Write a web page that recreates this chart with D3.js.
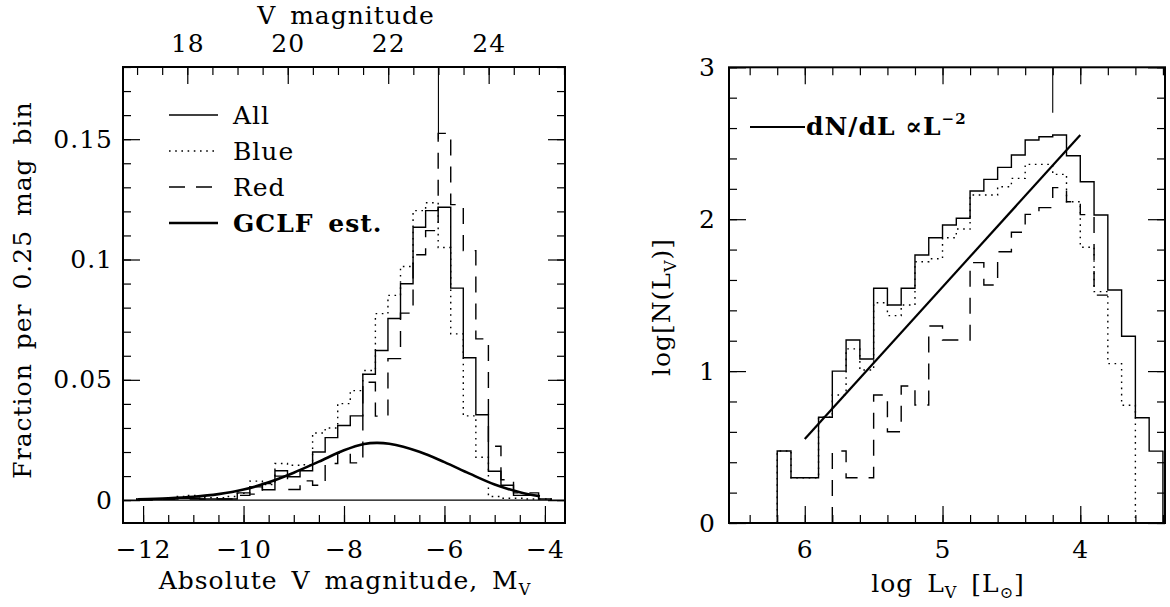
<!DOCTYPE html>
<html>
<head>
<meta charset="utf-8">
<script src="https://cdn.jsdelivr.net/npm/d3@7"></script>
<style>
  body { margin: 0; background: #fff; }
  svg { display: block; }
  text { font-family: "DejaVu Serif", serif; fill: #000; letter-spacing: 1px; word-spacing: 5px; }
</style>
</head>
<body>
<svg id="chart" width="1170" height="607"></svg>
<script>
// =========================================
// GCLF histograms – left: fraction per 0.25 mag bin, right: log N(L_V)
// =========================================

// -------- left panel data (bins of 0.25 mag, first edge at M_V = -12.125)
const mvFirstEdge = -12.125;
const mvBinWidth = 0.25;

const fracAll = [0.0005, 0.0005, 0.0005, 0.0008, 0.0008, 0.0005, 0.0005, 0.0005, 0.003, 0.0055,
  0.0043, 0.0122, 0.0097, 0.0122, 0.020, 0.026, 0.031, 0.035, 0.0523, 0.0622,
  0.0755, 0.0899, 0.1134, 0.1203, 0.1217, 0.0881, 0.0592, 0.0355, 0.012, 0.0062,
  0.002, 0.002, 0.0005];

const fracBlue = [0.0005, 0.0005, 0.0005, 0.0015, 0.002, 0.001, 0.001, 0.0015, 0.0028, 0.0079,
  0.0065, 0.0152, 0.0145, 0.0147, 0.0279, 0.0300, 0.0401, 0.0455, 0.0539, 0.0775,
  0.0851, 0.0971, 0.1203, 0.1236, 0.1050, 0.0691, 0.0350, 0.0178, 0.0015, 0.0008,
  0.0008, 0.0005, 0.0005];

const fracRed = [0, 0, 0.0003, 0.0005, 0.0005, 0.0005, 0.0005, 0.0005, 0.002, 0.0025,
  0.0069, 0.010, 0.0044, 0.008, 0.0062, 0.0152, 0.0196, 0.0155, 0.049, 0.0349,
  0.0588, 0.0777, 0.102, 0.112, 0.1524, 0.1228, 0.1037, 0.067, 0.0224, 0.0085,
  0.003, 0.003, 0.0005];

// GCLF estimate
const gclfMv = [-12.1, -11.5, -11.0, -10.5, -10.0, -9.5, -9.0, -8.5, -8.0, -7.6,
  -7.35, -7.1, -6.5, -6.0, -5.5, -5.0, -4.5, -4.1];
const gclfFrac = [0.0004, 0.0008, 0.0014, 0.0025, 0.0044, 0.0074, 0.0114, 0.0160, 0.0207, 0.0233,
  0.0238, 0.0234, 0.0201, 0.0158, 0.0110, 0.0065, 0.0033, 0.0016];

const leftMarker = { mv: -6.12, top: 0.18, bottom: 0.15 };
const distanceModulus = 29.12;

const mvMajorTicks = [-12, -10, -8, -6, -4];
const mvMinorTicks = d3.range(-12, -3.9, 0.5);
const vMajorTicks = [18, 20, 22, 24];
const vMinorTicks = d3.range(17, 25.6, 0.5);
const fracMajorTicks = [0, 0.05, 0.1, 0.15];
const fracMinorTicks = d3.range(0, 0.181, 0.01);

const legendLeft = [
  { label: "All", dash: null, width: 1.4, bold: false },
  { label: "Blue", dash: "1.6,4.6", width: 1.4, bold: false },
  { label: "Red", dash: "16,11", width: 1.4, bold: false },
  { label: "GCLF est.", dash: null, width: 2.6, bold: true }
];

// -------- right panel data (bins of 0.1 dex, first edge at log L = 6.2)
const logLFirstEdge = 6.2;
const logLBinWidth = -0.1;

const logNAll = [0.474, 0.298, 0.298, 0.696, 1.0, 1.205, 1.08, 1.545, 1.435, 1.545,
  1.764, 1.878, 1.962, 2.006, 2.186, 2.262, 2.341, 2.423, 2.521, 2.543,
  2.554, 2.418, 2.247, 2.028, 1.534, 1.229, 0.693, 0.473];

const logNBlue = [0.474, 0.298, 0.298, 0.696, 0.843, 1.146, 1.007, 1.45, 1.365, 1.435,
  1.72, 1.74, 1.878, 1.935, 2.159, 2.159, 2.214, 2.269, 2.361, 2.361,
  2.295, 2.115, 1.815, 1.523, 1.049, 0.775];

const redFirstBin = 4;
const logNRed = [0.474, 0.298, 0.298, 0.843, 0.601, 0.902, 0.777, 1.297, 1.205, 1.205,
  1.714, 1.567, 1.786, 1.914, 2.032, 2.076, 2.208, 2.115, 2.03, 1.5];

const powerLawLogL = [6.0, 4.0];
const powerLawLogN = [0.553, 2.554];

const rightMarker = { logL: 4.2, top: 3.0, bottom: 2.7 };

const logLMajorTicks = [6, 5, 4];
const logLMinorTicks = d3.range(6.4, 3.39, -0.2);
const logNMajorTicks = [0, 1, 2, 3];
const logNMinorTicks = d3.range(0, 3.01, 0.2);


// =========================
// LAYOUT
// =========================

const svg = d3.select("#chart");
const FONT = 25;

const leftBox = { x0: 123, x1: 565, y0: 67, y1: 523 };
const rightBox = { x0: 729, x1: 1165, y0: 67.3, y1: 523 };

const xL = d3.scaleLinear().domain([-12.4, -3.6]).range([leftBox.x0, leftBox.x1]);
const xTop = d3.scaleLinear()
  .domain([-12.4 + distanceModulus, -3.6 + distanceModulus])
  .range([leftBox.x0, leftBox.x1]);
const yL = d3.scaleLinear().domain([-0.0095, 0.18]).range([leftBox.y1, leftBox.y0]);

const xR = d3.scaleLinear().domain([6.55, 3.385]).range([rightBox.x0, rightBox.x1]);
const yR = d3.scaleLinear().domain([0, 3]).range([rightBox.y1, rightBox.y0]);


// =========================
// HELPERS
// =========================

function stepPoints(firstEdge, width, values, base, dropStart, dropEnd) {
  const pts = [];
  if (dropStart) pts.push([firstEdge, base]);
  values.forEach((v, i) => pts.push([firstEdge + i * width, v]));
  const lastEdge = firstEdge + values.length * width;
  pts.push([lastEdge, values[values.length - 1]]);
  if (dropEnd) pts.push([lastEdge, base]);
  return pts;
}

function styleAxis(g, showLabels) {
  g.select(".domain").remove();
  g.selectAll(".tick line").attr("stroke", "#000").attr("stroke-width", 1.2);
  g.selectAll(".tick text")
    .style("font-family", "'DejaVu Serif', serif")
    .style("font-size", FONT + "px")
    .attr("fill", "#000");
  if (!showLabels) g.selectAll(".tick text").remove();
}

function drawTicks(box, x, y, opts) {
  // bottom
  svg.append("g").attr("transform", `translate(0,${box.y1})`)
    .call(d3.axisBottom(x).tickValues(opts.xMinor).tickSize(-8).tickFormat(""))
    .call(g => styleAxis(g, false));
  svg.append("g").attr("transform", `translate(0,${box.y1})`)
    .call(d3.axisBottom(x).tickValues(opts.xMajor).tickSize(-17).tickPadding(17)
      .tickFormat(opts.xFormat))
    .call(g => styleAxis(g, true));

  // top
  const xt = opts.xTopScale || x;
  svg.append("g").attr("transform", `translate(0,${box.y0})`)
    .call(d3.axisTop(xt).tickValues(opts.xTopMinor || opts.xMinor).tickSize(-8).tickFormat(""))
    .call(g => styleAxis(g, false));
  svg.append("g").attr("transform", `translate(0,${box.y0})`)
    .call(d3.axisTop(xt).tickValues(opts.xTopMajor || opts.xMajor).tickSize(-17).tickPadding(15)
      .tickFormat(opts.xTopFormat || ""))
    .call(g => styleAxis(g, !!opts.xTopFormat));

  // left
  svg.append("g").attr("transform", `translate(${box.x0},0)`)
    .call(d3.axisLeft(y).tickValues(opts.yMinor).tickSize(-8).tickFormat(""))
    .call(g => styleAxis(g, false));
  svg.append("g").attr("transform", `translate(${box.x0},0)`)
    .call(d3.axisLeft(y).tickValues(opts.yMajor).tickSize(-17).tickPadding(opts.yPad)
      .tickFormat(opts.yFormat))
    .call(g => styleAxis(g, true));

  // right
  svg.append("g").attr("transform", `translate(${box.x1},0)`)
    .call(d3.axisRight(y).tickValues(opts.yMinor).tickSize(-8).tickFormat(""))
    .call(g => styleAxis(g, false));
  svg.append("g").attr("transform", `translate(${box.x1},0)`)
    .call(d3.axisRight(y).tickValues(opts.yMajor).tickSize(-17).tickFormat(""))
    .call(g => styleAxis(g, false));

  // frame
  svg.append("rect")
    .attr("x", box.x0).attr("y", box.y0)
    .attr("width", box.x1 - box.x0).attr("height", box.y1 - box.y0)
    .attr("fill", "none").attr("stroke", "#000").attr("stroke-width", 2);
}

function drawHist(x, y, pts, dash) {
  const line = d3.line().x(d => x(d[0])).y(d => y(d[1])).curve(d3.curveStepAfter);
  svg.append("path")
    .attr("d", line(pts))
    .attr("fill", "none")
    .attr("stroke", "#000")
    .attr("stroke-width", 1.4)
    .attr("stroke-dasharray", dash);
}

function subText(sel, parts) {
  parts.forEach(p => {
    const t = sel.append("tspan").text(p.t);
    if (p.sub) t.style("font-size", "16px").attr("dy", 6);
    if (p.up) t.attr("dy", -6);
    if (p.sup) t.style("font-size", "15px").attr("dy", -11);
  });
}


// =========================
// LEFT PANEL
// =========================

function drawLeftPanel() {
  // baseline at zero
  svg.append("line")
    .attr("x1", leftBox.x0).attr("x2", leftBox.x1)
    .attr("y1", yL(0)).attr("y2", yL(0))
    .attr("stroke", "#000").attr("stroke-width", 1.2);

  drawHist(xL, yL, stepPoints(mvFirstEdge, mvBinWidth, fracAll, 0, true, true), null);
  drawHist(xL, yL, stepPoints(mvFirstEdge, mvBinWidth, fracBlue, 0, true, true), "1.6,4.6");
  drawHist(xL, yL, stepPoints(mvFirstEdge, mvBinWidth, fracRed, 0, true, true), "16,11");

  const gclf = gclfMv.map((m, i) => [m, gclfFrac[i]]);
  svg.append("path")
    .attr("d", d3.line().x(d => xL(d[0])).y(d => yL(d[1])).curve(d3.curveCatmullRom)(gclf))
    .attr("fill", "none").attr("stroke", "#000").attr("stroke-width", 2.6);

  svg.append("line")
    .attr("x1", xL(leftMarker.mv)).attr("x2", xL(leftMarker.mv))
    .attr("y1", yL(leftMarker.top)).attr("y2", yL(leftMarker.bottom))
    .attr("stroke", "#000").attr("stroke-width", 1.1);

  drawTicks(leftBox, xL, yL, {
    xMajor: mvMajorTicks, xMinor: mvMinorTicks, xFormat: d3.format("d"),
    xTopScale: xTop, xTopMajor: vMajorTicks, xTopMinor: vMinorTicks, xTopFormat: d3.format("d"),
    yMajor: fracMajorTicks, yMinor: fracMinorTicks, yPad: 10,
    yFormat: d => d === 0 ? "0" : String(d)
  });

  // legend
  legendLeft.forEach((d, i) => {
    const yy = 115 + i * 36;
    svg.append("line")
      .attr("x1", 169).attr("x2", 218).attr("y1", yy).attr("y2", yy)
      .attr("stroke", "#000").attr("stroke-width", d.width)
      .attr("stroke-dasharray", d.dash);
    svg.append("text")
      .attr("x", 233).attr("y", yy + 9)
      .style("font-size", FONT + "px")
      .style("font-weight", d.bold ? "bold" : "normal")
      .text(d.label);
  });

  // axis titles
  svg.append("text")
    .attr("x", 346).attr("y", 24)
    .attr("text-anchor", "middle")
    .style("font-size", FONT + "px")
    .text("V magnitude");

  subText(svg.append("text")
    .attr("x", 345).attr("y", 589)
    .attr("text-anchor", "middle")
    .style("font-size", FONT + "px"),
    [{ t: "Absolute V magnitude, M" }, { t: "V", sub: true }]);

  svg.append("text")
    .attr("transform", "translate(31,290) rotate(-90)")
    .attr("text-anchor", "middle")
    .style("font-size", FONT + "px")
    .text("Fraction per 0.25 mag bin");
}


// =========================
// RIGHT PANEL
// =========================

function drawRightPanel() {
  drawHist(xR, yR, stepPoints(logLFirstEdge, logLBinWidth, logNAll, 0, true, true), null);
  drawHist(xR, yR, stepPoints(logLFirstEdge, logLBinWidth, logNBlue, 0, true, true), "1.6,4.6");
  drawHist(xR, yR, stepPoints(logLFirstEdge + redFirstBin * logLBinWidth, logLBinWidth,
    logNRed, 0, true, false), "16,11");

  const pl = powerLawLogL.map((l, i) => [l, powerLawLogN[i]]);
  svg.append("path")
    .attr("d", d3.line().x(d => xR(d[0])).y(d => yR(d[1]))(pl))
    .attr("fill", "none").attr("stroke", "#000").attr("stroke-width", 2.2);

  svg.append("line")
    .attr("x1", xR(rightMarker.logL)).attr("x2", xR(rightMarker.logL))
    .attr("y1", yR(rightMarker.top)).attr("y2", yR(rightMarker.bottom))
    .attr("stroke", "#000").attr("stroke-width", 1.1);

  drawTicks(rightBox, xR, yR, {
    xMajor: logLMajorTicks, xMinor: logLMinorTicks, xFormat: d3.format("d"),
    yMajor: logNMajorTicks, yMinor: logNMinorTicks, yPad: 13,
    yFormat: d3.format("d")
  });

  // legend
  svg.append("line")
    .attr("x1", 750).attr("x2", 805).attr("y1", 127).attr("y2", 127)
    .attr("stroke", "#000").attr("stroke-width", 2.2);
  subText(svg.append("text")
    .attr("x", 806).attr("y", 135)
    .style("font-size", FONT + "px")
    .style("font-weight", "bold")
    .style("word-spacing", "0px"),
    [{ t: "dN/dL \u221DL" }, { t: "\u22122", sup: true }]);

  // axis titles
  subText(svg.append("text")
    .attr("x", 948).attr("y", 592)
    .attr("text-anchor", "middle")
    .style("font-size", FONT + "px"),
    [{ t: "log L" }, { t: "V", sub: true }, { t: " [L", up: true }, { t: "\u2299", sub: true }, { t: "]", up: true }]);

  subText(svg.append("text")
    .attr("transform", "translate(670,307) rotate(-90)")
    .attr("text-anchor", "middle")
    .style("font-size", FONT + "px"),
    [{ t: "log[N(L" }, { t: "V", sub: true }, { t: ")]", up: true }]);
}

drawLeftPanel();
drawRightPanel();
</script>
</body>
</html>
